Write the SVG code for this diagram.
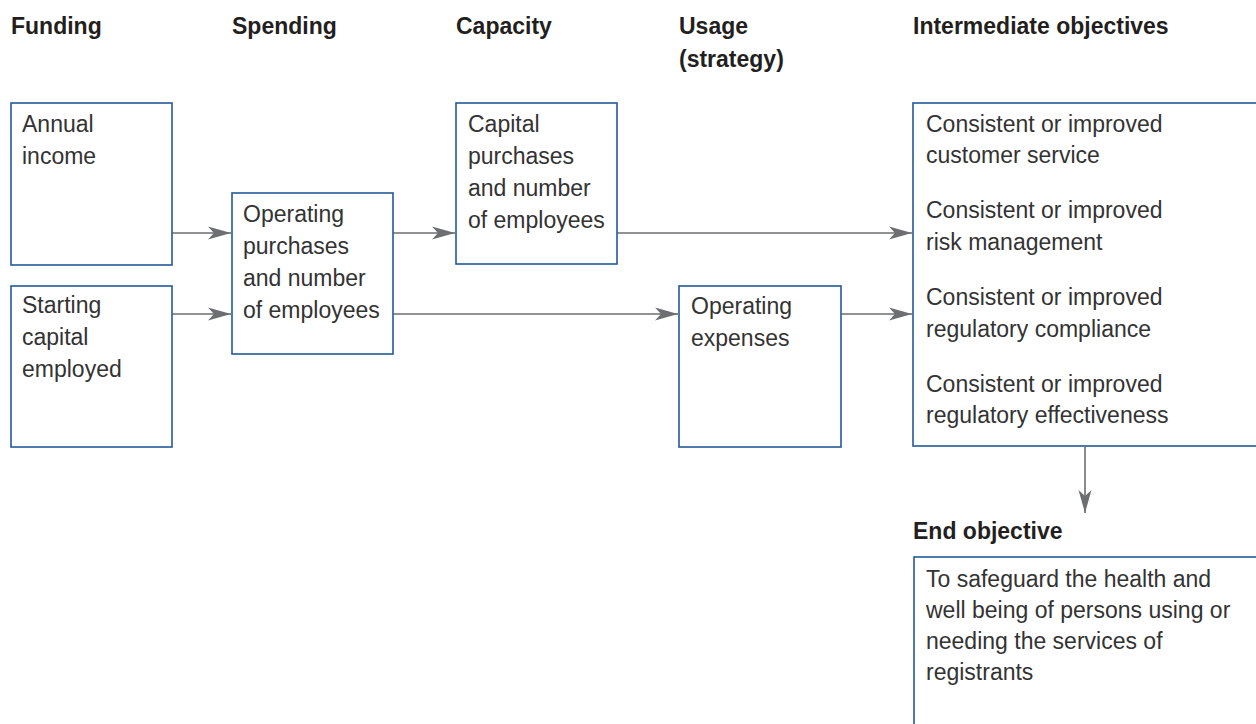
<svg xmlns="http://www.w3.org/2000/svg" width="1256" height="724" viewBox="0 0 1256 724">
<defs>
<style>
.h{font-family:"Liberation Sans",Arial,sans-serif;font-size:23px;font-weight:bold;fill:#231f20}
.t{font-family:"Liberation Sans",Arial,sans-serif;font-size:23px;fill:#333333}
.box{fill:#ffffff;stroke:#23599a;stroke-width:1.6}
.c{stroke:#6d6e71;stroke-width:1.6;fill:none;marker-end:url(#ah)}
</style>
<marker id="ah" viewBox="0 0 24 14" refX="23" refY="7" markerWidth="24" markerHeight="14" markerUnits="userSpaceOnUse" orient="auto">
<path d="M23,7 L0,0.5 L6,7 L0,13.5 Z" fill="#6d6e71"/>
</marker>
</defs>
<rect width="1256" height="724" fill="#ffffff"/>
<g id="headings">
<text class="h" x="11" y="34">Funding</text>
<text class="h" x="232" y="34">Spending</text>
<text class="h" x="456" y="34">Capacity</text>
<text class="h" x="679" y="34">Usage</text>
<text class="h" x="679" y="67">(strategy)</text>
<text class="h" x="913" y="34">Intermediate objectives</text>
<text class="h" x="913" y="539">End objective</text>
</g>
<g id="connectors">
<line class="c" x1="172" y1="233" x2="231" y2="233"/>
<line class="c" x1="172" y1="314" x2="231" y2="314"/>
<line class="c" x1="393" y1="233" x2="455" y2="233"/>
<line class="c" x1="393" y1="314" x2="678" y2="314"/>
<line class="c" x1="617" y1="233" x2="912" y2="233"/>
<line class="c" x1="841" y1="314" x2="912" y2="314"/>
<line class="c" x1="1085" y1="447" x2="1085" y2="513"/>
</g>
<g id="annual-income">
<rect class="box" x="11" y="103" width="161" height="162"/>
<text class="t" x="22" y="132">Annual</text>
<text class="t" x="22" y="164">income</text>
</g>
<g id="starting-capital">
<rect class="box" x="11" y="286" width="161" height="161"/>
<text class="t" x="22" y="313">Starting</text>
<text class="t" x="22" y="345">capital</text>
<text class="t" x="22" y="377">employed</text>
</g>
<g id="operating-purchases">
<rect class="box" x="232" y="193" width="161" height="161"/>
<text class="t" x="243" y="222">Operating</text>
<text class="t" x="243" y="254">purchases</text>
<text class="t" x="243" y="286">and number</text>
<text class="t" x="243" y="318">of employees</text>
</g>
<g id="capital-purchases">
<rect class="box" x="456" y="103" width="161" height="161"/>
<text class="t" x="468" y="132">Capital</text>
<text class="t" x="468" y="164">purchases</text>
<text class="t" x="468" y="196">and number</text>
<text class="t" x="468" y="228">of employees</text>
</g>
<g id="operating-expenses">
<rect class="box" x="679" y="286" width="162" height="161"/>
<text class="t" x="691" y="314">Operating</text>
<text class="t" x="691" y="346">expenses</text>
</g>
<g id="intermediate-objectives">
<rect class="box" x="913" y="103" width="360" height="343"/>
<text class="t" x="926" y="132">Consistent or improved</text>
<text class="t" x="926" y="163">customer service</text>
<text class="t" x="926" y="218">Consistent or improved</text>
<text class="t" x="926" y="250">risk management</text>
<text class="t" x="926" y="305">Consistent or improved</text>
<text class="t" x="926" y="337">regulatory compliance</text>
<text class="t" x="926" y="392">Consistent or improved</text>
<text class="t" x="926" y="423">regulatory effectiveness</text>
</g>
<g id="end-objective">
<rect class="box" x="914" y="557" width="360" height="190"/>
<text class="t" x="926" y="587">To safeguard the health and</text>
<text class="t" x="926" y="618">well being of persons using or</text>
<text class="t" x="926" y="649">needing the services of</text>
<text class="t" x="926" y="680">registrants</text>
</g>
</svg>
